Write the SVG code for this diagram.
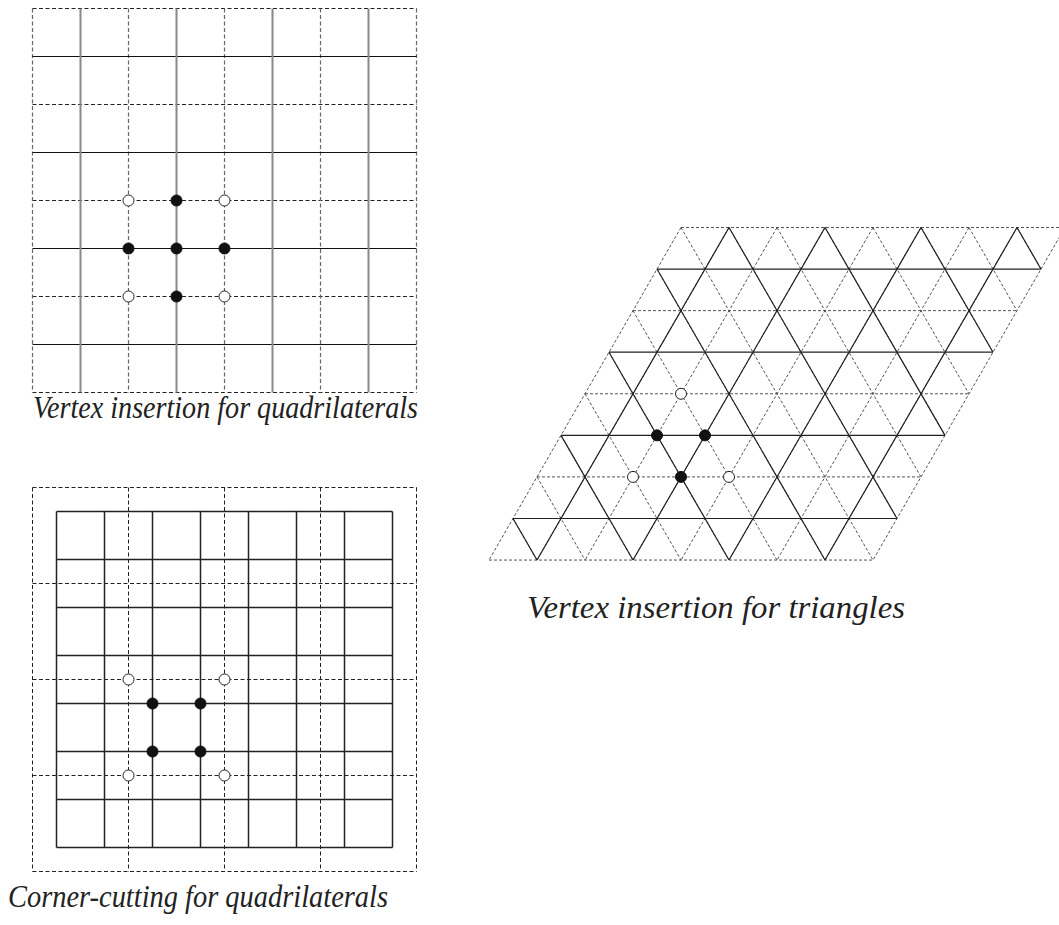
<svg xmlns="http://www.w3.org/2000/svg" width="1059" height="925" viewBox="0 0 1059 925">
<defs>
<style>
.bg{fill:#ffffff}
.dh{stroke:#222;stroke-width:1;stroke-dasharray:4 2.5;fill:none}
.dv{stroke:#666;stroke-width:1.2;stroke-dasharray:4 2.5;fill:none}
.sh{stroke:#111;stroke-width:1.2;fill:none}
.sv{stroke:#888;stroke-width:2;fill:none}
.sb{stroke:#222;stroke-width:1.5;fill:none}
.td{stroke:#555;stroke-width:1;stroke-dasharray:3 2;fill:none}
.ts{stroke:#222;stroke-width:1.2;fill:none}
.f{fill:#111;stroke:#111;stroke-width:1}
.o{fill:#fff;stroke:#222;stroke-width:1}
.cap{font-family:"Liberation Serif","Times New Roman",serif;font-style:italic;font-size:31px;fill:#222}
</style>
</defs>
<rect class="bg" x="0" y="0" width="1059" height="925"/>

<g id="vertex-insertion-quads">
  <g id="vq-dashed">
    <path class="dh" d="M32.5 8.5H416.5M32.5 104.5H416.5M32.5 200.5H416.5M32.5 296.5H416.5M32.5 392.5H416.5"/>
    <path class="dv" d="M32.5 8.5V392.5M128.5 8.5V392.5M224.5 8.5V392.5M320.5 8.5V392.5M416.5 8.5V392.5"/>
  </g>
  <g id="vq-solid">
    <path class="sh" d="M32.5 56.5H416.5M32.5 152.5H416.5M32.5 248.5H416.5M32.5 344.5H416.5"/>
    <path class="sv" d="M80.5 8.5V392.5M176.5 8.5V392.5M272.5 8.5V392.5M368.5 8.5V392.5"/>
  </g>
  <g id="vq-points">
    <circle class="o" cx="128.5" cy="200.5" r="5.5"/>
    <circle class="o" cx="224.5" cy="200.5" r="5.5"/>
    <circle class="o" cx="128.5" cy="296.5" r="5.5"/>
    <circle class="o" cx="224.5" cy="296.5" r="5.5"/>
    <circle class="f" cx="176.5" cy="200.5" r="5.5"/>
    <circle class="f" cx="128.5" cy="248.5" r="5.5"/>
    <circle class="f" cx="176.5" cy="248.5" r="5.5"/>
    <circle class="f" cx="224.5" cy="248.5" r="5.5"/>
    <circle class="f" cx="176.5" cy="296.5" r="5.5"/>
  </g>
  <text class="cap" x="33" y="418" textLength="385" lengthAdjust="spacingAndGlyphs">Vertex insertion for quadrilaterals</text>
</g>

<g id="corner-cutting-quads">
  <g id="cc-dashed">
    <path class="dh" d="M32.5 487.5H416.5M32.5 583.5H416.5M32.5 679.5H416.5M32.5 775.5H416.5M32.5 871.5H416.5"/>
    <path class="dh" d="M32.5 487.5V871.5M128.5 487.5V871.5M224.5 487.5V871.5M320.5 487.5V871.5M416.5 487.5V871.5"/>
  </g>
  <g id="cc-solid">
    <path class="sb" d="M56.5 511.5H392.5M56.5 559.5H392.5M56.5 607.5H392.5M56.5 655.5H392.5M56.5 703.5H392.5M56.5 751.5H392.5M56.5 799.5H392.5M56.5 847.5H392.5"/>
    <path class="sb" d="M56.5 511.5V847.5M104.5 511.5V847.5M152.5 511.5V847.5M200.5 511.5V847.5M248.5 511.5V847.5M296.5 511.5V847.5M344.5 511.5V847.5M392.5 511.5V847.5"/>
  </g>
  <g id="cc-points">
    <circle class="o" cx="128.5" cy="679.5" r="5.5"/>
    <circle class="o" cx="224.5" cy="679.5" r="5.5"/>
    <circle class="o" cx="128.5" cy="775.5" r="5.5"/>
    <circle class="o" cx="224.5" cy="775.5" r="5.5"/>
    <circle class="f" cx="152.5" cy="703.5" r="5.5"/>
    <circle class="f" cx="200.5" cy="703.5" r="5.5"/>
    <circle class="f" cx="152.5" cy="751.5" r="5.5"/>
    <circle class="f" cx="200.5" cy="751.5" r="5.5"/>
  </g>
  <text class="cap" x="8" y="907" textLength="380" lengthAdjust="spacingAndGlyphs">Corner-cutting for quadrilaterals</text>
</g>

<g id="vertex-insertion-triangles">
  <g id="vt-dashed">
    <path class="td" d="M681 227.5H1065M633 310.64H1017M585 393.78H969M537 476.92H921M489 560.06H873"/>
    <path class="td" d="M681 227.5L489 560.06M729 227.5L537 560.06M777 227.5L585 560.06M825 227.5L633 560.06M873 227.5L681 560.06M921 227.5L729 560.06M969 227.5L777 560.06M1017 227.5L825 560.06M1065 227.5L873 560.06"/>
    <path class="td" d="M681 227.5L873 560.06M729 227.5L897 518.49M777 227.5L921 476.92M825 227.5L945 435.35M873 227.5L969 393.78M921 227.5L993 352.21M969 227.5L1017 310.64M1017 227.5L1041 269.07"/>
    <path class="td" d="M657 269.07L825 560.06M633 310.64L777 560.06M609 352.21L729 560.06M585 393.78L681 560.06M561 435.35L633 560.06M537 476.92L585 560.06M513 518.49L537 560.06"/>
  </g>
  <g id="vt-solid">
    <path class="ts" d="M657 269.07H1041M609 352.21H993M561 435.35H945M513 518.49H897"/>
    <path class="ts" d="M729 227.5L537 560.06M825 227.5L633 560.06M921 227.5L729 560.06M1017 227.5L825 560.06"/>
    <path class="ts" d="M729 227.5L897 518.49M825 227.5L945 435.35M921 227.5L993 352.21M1017 227.5L1041 269.07"/>
    <path class="ts" d="M657 269.07L825 560.06M609 352.21L729 560.06M561 435.35L633 560.06M513 518.49L537 560.06"/>
  </g>
  <g id="vt-points">
    <circle class="o" cx="681" cy="393.78" r="5.5"/>
    <circle class="f" cx="657" cy="435.35" r="5.5"/>
    <circle class="f" cx="705" cy="435.35" r="5.5"/>
    <circle class="o" cx="633" cy="476.92" r="5.5"/>
    <circle class="f" cx="681" cy="476.92" r="5.5"/>
    <circle class="o" cx="729" cy="476.92" r="5.5"/>
  </g>
  <text class="cap" x="527" y="618" textLength="378" lengthAdjust="spacingAndGlyphs">Vertex insertion for triangles</text>
</g>
</svg>
